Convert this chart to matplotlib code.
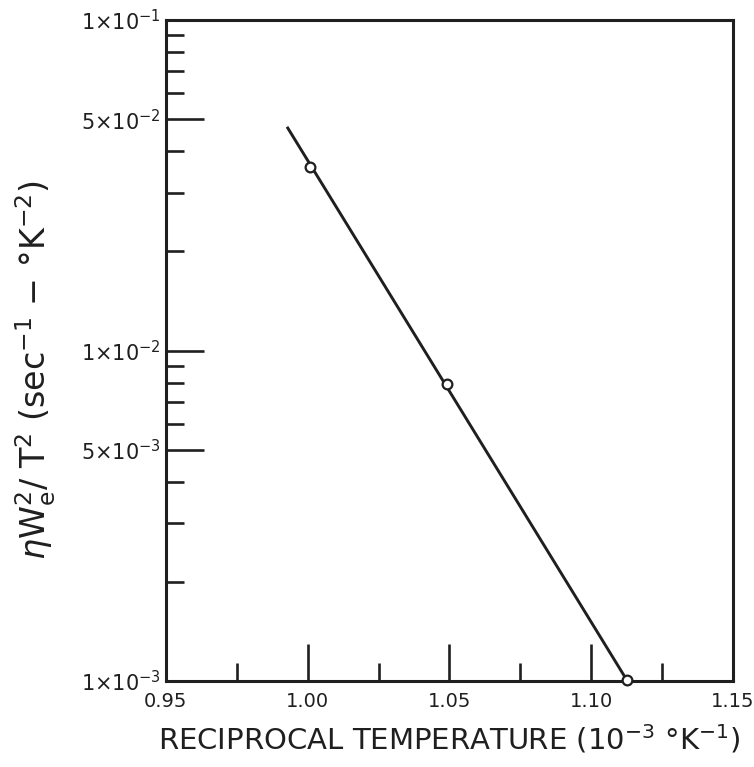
import numpy as np
import matplotlib
matplotlib.use("Agg")
import matplotlib.pyplot as plt
from matplotlib.ticker import FixedLocator, NullFormatter

# measured points (reciprocal temperature, 1e-3 /K)
x_pts = [1.001, 1.049, 1.1125]
y_pts = [0.0360, 0.0079, 0.00101]

# straight-line fit drawn through the points
fit_x = [0.993, 1.1125]
fit_y = [0.0471, 0.00101]

y_major = [1e-3, 5e-3, 1e-2, 5e-2, 1e-1]
y_major_labels = [r"1$\times$10$^{-3}$", r"5$\times$10$^{-3}$", r"1$\times$10$^{-2}$",
                  r"5$\times$10$^{-2}$", r"1$\times$10$^{-1}$"]
y_minor = [2e-3, 3e-3, 4e-3, 6e-3, 7e-3, 8e-3, 9e-3,
           2e-2, 3e-2, 4e-2, 6e-2, 7e-2, 8e-2, 9e-2]
x_major = [0.95, 1.00, 1.05, 1.10, 1.15]
x_major_labels = ["0.95", "1.00", "1.05", "1.10", "1.15"]
x_minor = [0.975, 1.025, 1.075, 1.125]

ink = "#1f1f1f"
plt.rcParams['font.family'] = ['DejaVu Sans']
plt.rcParams['mathtext.fontset'] = 'dejavusans'

fig = plt.figure(figsize=(7.54, 7.67), dpi=100)
ax = fig.add_axes([0.220, 0.112, 0.752, 0.862])

ax.plot(fit_x, fit_y, color=ink, lw=2.1, zorder=2)
ax.plot(x_pts, y_pts, 'o', ms=7, mfc='white', mec=ink, mew=1.6, zorder=3, clip_on=False)

ax.set_yscale('log')
ax.set_xlim(0.95, 1.15)
ax.set_ylim(1e-3, 1e-1)

ax.yaxis.set_major_locator(FixedLocator(y_major))
ax.yaxis.set_minor_locator(FixedLocator(y_minor))
ax.set_yticklabels(y_major_labels)
ax.yaxis.set_minor_formatter(NullFormatter())
ax.xaxis.set_major_locator(FixedLocator(x_major))
ax.xaxis.set_minor_locator(FixedLocator(x_minor))
ax.set_xticklabels(x_major_labels)

for s in ax.spines.values():
    s.set_linewidth(2.2)
    s.set_color(ink)

ax.tick_params(which='both', direction='in', color=ink, width=1.9,
               top=False, right=False)
ax.tick_params(which='major', length=27)
ax.tick_params(which='minor', length=13)
ax.tick_params(axis='y', which='major', labelsize=15, pad=4, labelcolor=ink)
ax.tick_params(axis='x', which='major', labelsize=14, pad=8, labelcolor=ink)

ax.set_xlabel(r"RECIPROCAL TEMPERATURE (10$^{-3}$ $\degree$K$^{-1}$)",
              fontsize=21, color=ink, labelpad=8)
ax.set_ylabel(r"$\eta$W$_\mathrm{e}^2$/ T$^2$ (sec$^{-1}$ $-$ $\degree$K$^{-2}$)",
              fontsize=24, color=ink)
ax.yaxis.set_label_coords(-0.19, 0.47)

fig.savefig("out.png", dpi=100)
